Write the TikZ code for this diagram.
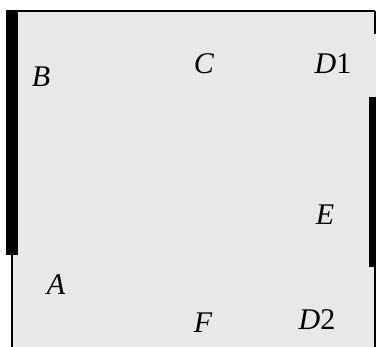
\documentclass[tikz,border=0pt]{standalone}
\usepackage{fontspec}
\setmainfont{Liberation Serif}
\begin{document}
\begin{tikzpicture}[x=0.75pt,y=-0.75pt,
  lbl/.style={inner sep=0pt,font=\fontsize{22.5}{26}\selectfont},
  thin/.style={line width=1.5pt*0.75},
  thick bar/.style={fill=black}]
\useasboundingbox (0,0) rectangle (376,347);
% grey field
\fill[gray!18] (12,11) rectangle (376,347);
% border lines
\draw[thin] (7,11) -- (375,11);
\draw[thin] (375,11) -- (375,34);
\draw[thin] (375,267) -- (375,347);
\draw[thin] (12,255) -- (12,347);
% thick bars
\fill[thick bar] (6.5,10) rectangle (18.3,255);
\fill[thick bar] (368.5,97) rectangle (381,267);
% labels
\node[lbl] (B) at (41,77) {\itshape B};
\node[lbl] (C) at (204,64) {\itshape C};
\node[lbl] (D1) at (333,64) {{\itshape D}1};
\node[lbl] (E) at (325,215) {\itshape E};
\node[lbl] (A) at (56,285) {\itshape A};
\node[lbl] (F) at (203,323) {\itshape F};
\node[lbl] (D2) at (317,320) {{\itshape D}2};
\end{tikzpicture}
\end{document}
